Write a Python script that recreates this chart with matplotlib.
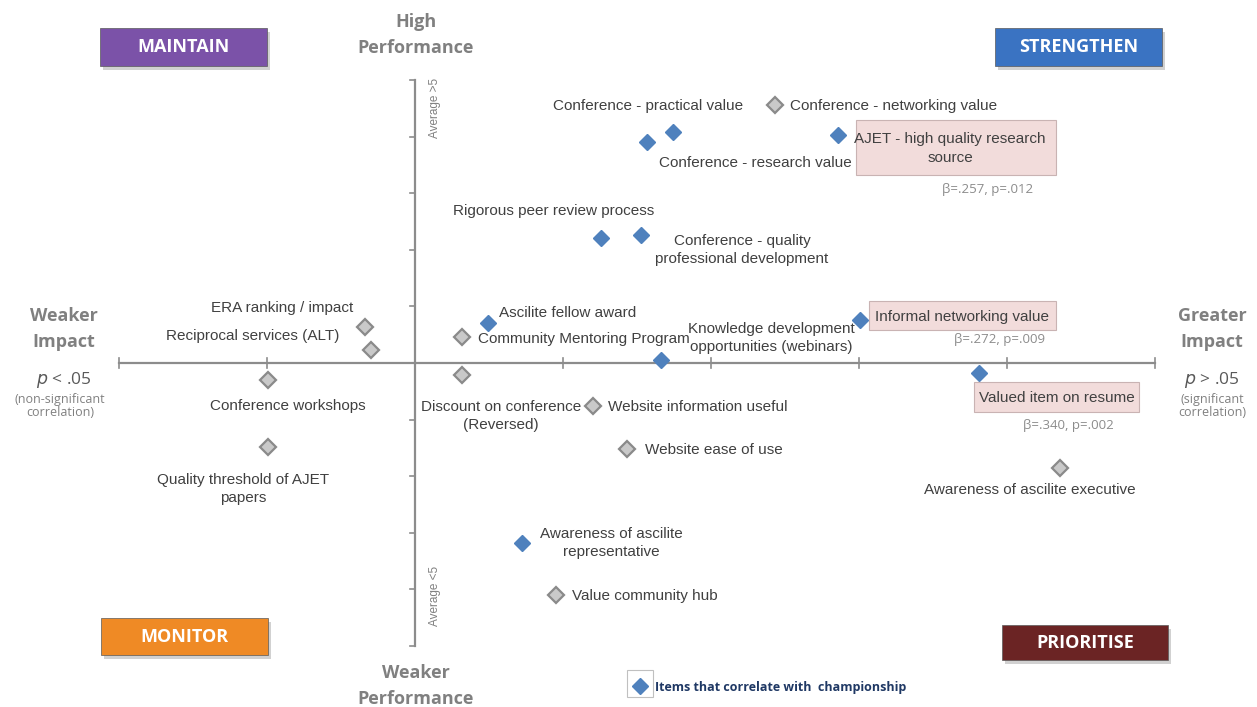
import matplotlib.pyplot as plt
from matplotlib.patches import Rectangle

# impact (x) vs performance (y), axis units; origin at the axes crossing
other_items = ["Conference - networking value", "ERA ranking / impact", "Reciprocal services (ALT)",
               "Community Mentoring Program", "Conference workshops", "Discount on conference (Reversed)",
               "Website information useful", "Website ease of use", "Quality threshold of AJET papers",
               "Awareness of ascilite executive", "Value community hub"]
other_x = [2.43, -0.34, -0.30, 0.32, -0.99, 0.32, 1.20, 1.43, -0.99, 4.36, 0.95]
other_y = [4.56, 0.64, 0.23, 0.46, -0.30, -0.21, -0.76, -1.52, -1.48, -1.86, -4.10]

corr_items = ["Conference - practical value", "Conference - research value", "AJET - high quality research source",
              "Rigorous peer review process", "Conference - quality professional development",
              "Ascilite fellow award", "Informal networking value",
              "Knowledge development opportunities (webinars)", "Valued item on resume",
              "Awareness of ascilite representative"]
corr_x = [1.74, 1.57, 2.86, 1.26, 1.53, 0.49, 3.01, 1.66, 3.81, 0.72]
corr_y = [4.08, 3.90, 4.03, 2.21, 2.26, 0.71, 0.76, 0.05, -0.18, -3.18]

x_ticks = [-2, -1, 0, 1, 2, 3, 4, 5]
y_ticks = [-5, -4, -3, -2, -1, 0, 1, 2, 3, 4, 5]

# pixel layout helpers (figure is 1257x707 px, axes fill the figure)
X0, Y0, SX, SY = 415, 363, 148, 56.6
def px(x, y):
    return (x - X0) / SX, (Y0 - y) / SY

W, H = 1257, 707
fig = plt.figure(figsize=(W / 100, H / 100), dpi=100)
ax = fig.add_axes([0, 0, 1, 1])
ax.set_xlim(-X0 / SX, (W - X0) / SX)
ax.set_ylim((Y0 - H) / SY, Y0 / SY)
ax.axis('off')

FONT = ['Liberation Sans', 'DejaVu Sans']
BOLD = ['Open Sans', 'DejaVu Sans']
axc = '#8c8c8c'

# axes lines + ticks
ax.plot([x_ticks[0], x_ticks[-1]], [0, 0], color=axc, lw=1.6, zorder=1)
ax.plot([0, 0], [y_ticks[0], y_ticks[-1]], color=axc, lw=1.6, zorder=1)
for t in x_ticks:
    ax.plot([t, t], [-5 / SY, 5 / SY], color=axc, lw=1.2, zorder=1)
for t in y_ticks:
    ax.plot([-5 / SX, 0], [t, t], color=axc, lw=1.2, zorder=1)

ax.plot(other_x, other_y, 'D', ms=8.5, mfc='#c9c9c9', mec='#8a8a8a', mew=1.6, ls='none', zorder=3)
ax.plot(corr_x, corr_y, 'D', ms=8.5, mfc='#4f81bd', mec='#4f81bd', mew=1, ls='none', zorder=3)

# point labels: text, pixel x, pixel y, alignment
labels = [
    ("Conference - practical value", 648, 106, 'center'),
    ("Conference - networking value", 790, 106, 'left'),
    ("Conference - research value", 659, 163, 'left'),
    ("Rigorous peer review process", 453, 211, 'left'),
    ("Conference - quality\nprofessional development", 742, 250, 'center'),
    ("ERA ranking / impact", 282, 308, 'center'),
    ("Reciprocal services (ALT)", 253, 336, 'center'),
    ("Ascilite fellow award", 499, 313, 'left'),
    ("Community Mentoring Program", 478, 339, 'left'),
    ("Knowledge development\nopportunities (webinars)", 771, 338, 'center'),
    ("Conference workshops", 288, 406, 'center'),
    ("Discount on conference\n(Reversed)", 501, 416, 'center'),
    ("Website information useful", 608, 407, 'left'),
    ("Website ease of use", 645, 450, 'left'),
    ("Quality threshold of AJET\npapers", 243, 489, 'center'),
    ("Awareness of ascilite executive", 1030, 490, 'center'),
    ("Awareness of ascilite\nrepresentative", 611, 543, 'center'),
    ("Value community hub", 572, 596, 'left'),
]
for txt, x, y, ha in labels:
    ax.text(*px(x, y), txt, ha=ha, va='center', fontsize=11, color='#404040',
            family=FONT, linespacing=1.4, zorder=4)

# highlighted items with coefficient notes
boxes = [
    ("AJET - high quality research\nsource", 856, 120, 200, 55, 950, "β=.257, p=.012", 988, 190),
    ("Informal networking value", 869, 301, 187, 29, 962, "β=.272, p=.009", 1000, 340),
    ("Valued item on resume", 974, 382, 165, 30, 1057, "β=.340, p=.002", 1068, 425),
]
for txt, bx, by, bw, bh, tx, note, nx, ny in boxes:
    x0, y0 = px(bx, by + bh)
    ax.add_patch(Rectangle((x0, y0), bw / SX, bh / SY, fc='#f2dcdb', ec='#c9b3b3', lw=0.8, zorder=2))
    ax.text(*px(tx, by + bh / 2 + 1), txt, ha='center', va='center', fontsize=11, color='#404040',
            family=FONT, linespacing=1.4, zorder=4)
    ax.text(*px(nx, ny), note, ha='center', va='center', fontsize=9.5, color='#8c8c8c',
            family=['Open Sans', 'DejaVu Sans'], zorder=4)

# axis titles
gray = '#808080'
for txt, x, y in [("High\nPerformance", 416, 35), ("Weaker\nPerformance", 416, 686),
                  ("Weaker\nImpact", 64, 329), ("Greater\nImpact", 1212, 329)]:
    ax.text(*px(x, y), txt, ha='center', va='center', fontsize=13, fontweight='bold',
            color=gray, family=BOLD, linespacing=1.55)
for txt, x in [("$p$ < .05", 64), ("$p$ > .05", 1212)]:
    ax.text(*px(x, 380), txt, ha='center', va='center', fontsize=12.5, color='#595959', family=BOLD)
for txt, x in [("(non-significant\ncorrelation)", 60), ("(significant\ncorrelation)", 1212)]:
    ax.text(*px(x, 406), txt, ha='center', va='center', fontsize=9, color=gray,
            family=BOLD, linespacing=1.05)
ax.text(*px(435, 108), "Average >5", rotation=90, ha='center', va='center', fontsize=8.5,
        color=gray, family=FONT)
ax.text(*px(435, 596), "Average <5", rotation=90, ha='center', va='center', fontsize=8.5,
        color=gray, family=FONT)

# quadrant banners
quads = [("MAINTAIN", 100, 28, 167, 38, '#7b52a8'), ("STRENGTHEN", 995, 28, 167, 38, '#3a73c2'),
         ("MONITOR", 101, 618, 167, 37, '#ef8a25'), ("PRIORITISE", 1002, 625, 166, 35, '#6b2424')]
for txt, bx, by, bw, bh, col in quads:
    sx, sy = px(bx + 3, by + bh + 4)
    ax.add_patch(Rectangle((sx, sy), bw / SX, bh / SY, fc='#000000', alpha=0.18, lw=0, zorder=2))
    x0, y0 = px(bx, by + bh)
    ax.add_patch(Rectangle((x0, y0), bw / SX, bh / SY, fc=col, ec='#5a5a5a', lw=0.5, zorder=3))
    ax.text(*px(bx + bw / 2, by + bh / 2), txt, ha='center', va='center', fontsize=13,
            fontweight='bold', color='white', family=BOLD, zorder=4)

# legend
lx, ly = px(627, 697)
ax.add_patch(Rectangle((lx, ly), 26 / SX, 27 / SY, fc='white', ec='#c0c0c0', lw=0.8, zorder=2))
ax.plot(*px(640, 686), 'D', ms=8, mfc='#4f81bd', mec='#4f81bd', zorder=3)
ax.text(*px(655, 687), "Items that correlate with  championship", ha='left', va='center',
        fontsize=9, fontweight='bold', color='#1f3864', family=BOLD)

plt.savefig('out.png', dpi=100)
